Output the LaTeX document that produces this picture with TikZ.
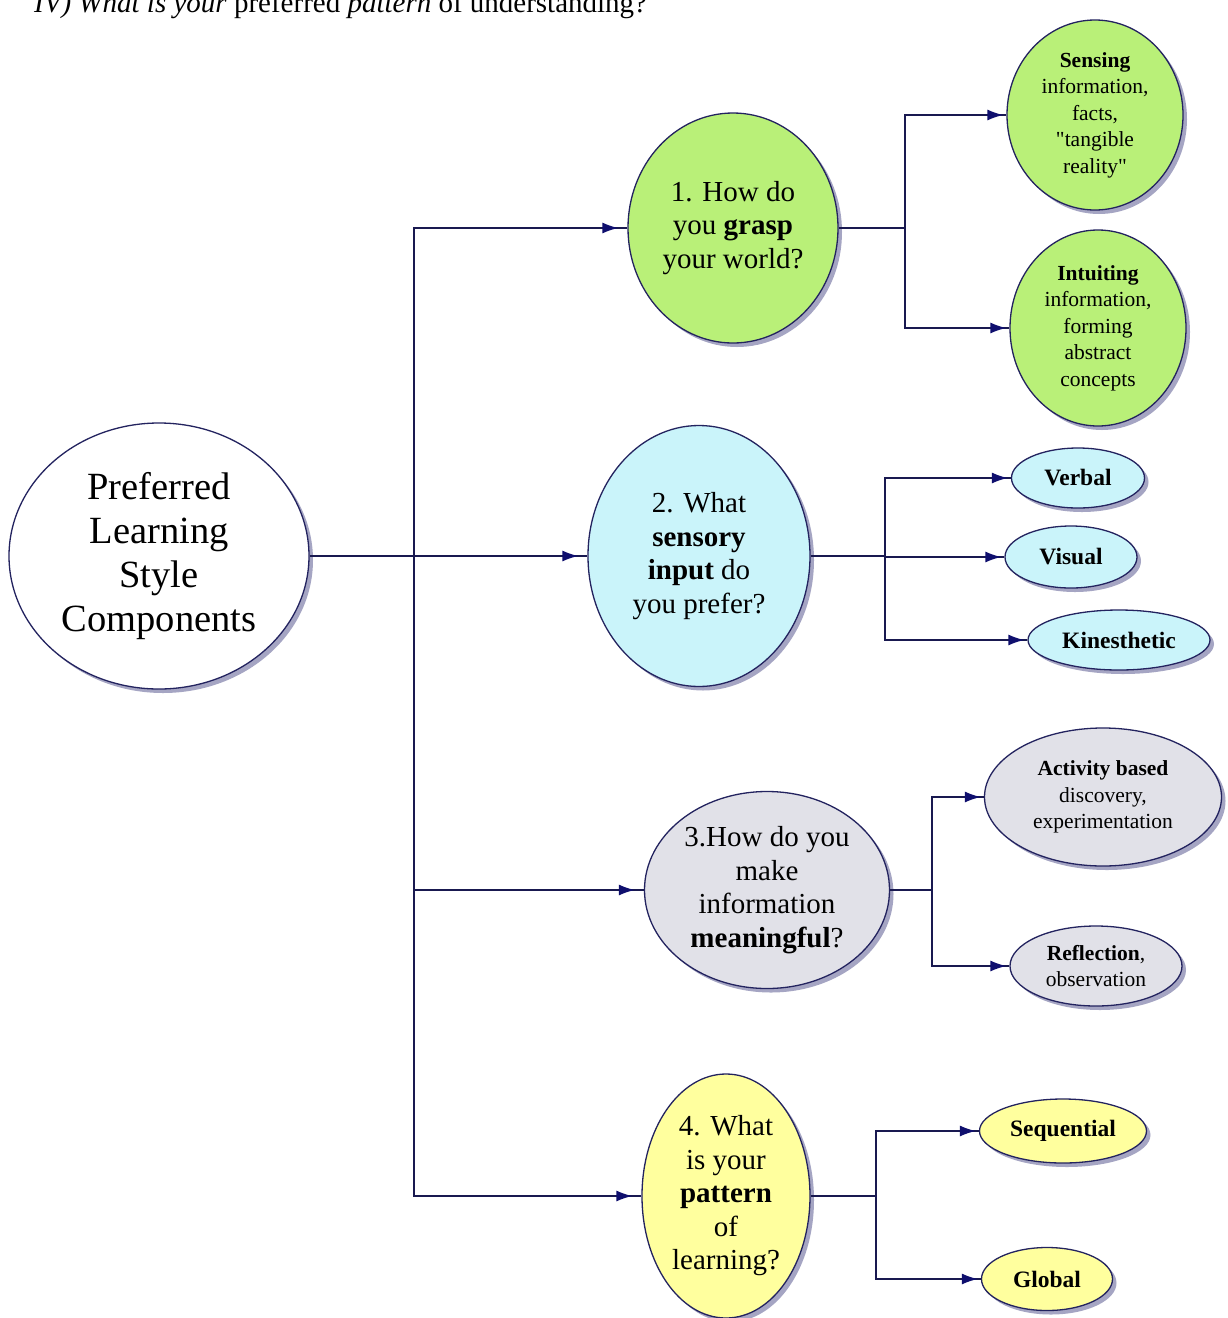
\documentclass[tikz,border=0pt]{standalone}
\usepackage{fontspec}
\setmainfont{Liberation Serif}
\usetikzlibrary{shapes.geometric,arrows.meta,shadows,decorations.markings}
\definecolor{edgec}{RGB}{35,35,95}
\definecolor{linec}{RGB}{25,25,80}
\definecolor{tipc}{RGB}{15,15,110}
\definecolor{shadowc}{RGB}{135,135,175}
\definecolor{greenf}{RGB}{185,240,120}
\definecolor{cyanf}{RGB}{202,244,250}
\definecolor{greyf}{RGB}{225,225,232}
\definecolor{yellowf}{RGB}{255,255,158}
\begin{document}
\begin{tikzpicture}[x=1pt,y=-1pt,
  oval/.style={ellipse, draw=edgec, line width=1.3pt, inner sep=0pt, align=center,
    drop shadow={shadow xshift=4pt, shadow yshift=-4pt, fill=shadowc, opacity=0.75}},
  big/.style={font=\fontsize{29}{33.5}\selectfont},
  small/.style={font=\fontsize{21.5}{26.5}\selectfont},
  word/.style={font=\fontsize{23.5}{27}\selectfont\bfseries},
  conn/.style={draw=linec, line width=1.5pt},
  tipped/.style={conn, postaction={decorate, decoration={markings,
    mark=at position -9pt with {\arrow[tipc]{Latex[length=16pt,width=11pt]}}}}},
  tippedsm/.style={conn, postaction={decorate, decoration={markings,
    mark=at position -3pt with {\arrow[tipc]{Latex[length=16pt,width=11pt]}}}}}
]
\useasboundingbox (0,0) rectangle (1228,1318);
\fill[white] (0,0) rectangle (1228,1318);

\node[anchor=base west, inner sep=0pt, font=\fontsize{29}{32}\selectfont] (title) at (34,12)
  {\textit{IV) What is your} preferred \textit{pattern} of understanding?};

% main node
\node[oval, fill=white, minimum width=300pt, minimum height=266pt,
  font=\fontsize{38.5}{44}\selectfont] (main) at (159,556)
  {Preferred\\Learning\\Style\\Components};

% level 1
\node[oval, big, fill=greenf, minimum width=210pt, minimum height=230pt] (n1) at (733,228)
  {1. How do\\you \textbf{grasp}\\your world?};
\node[oval, big, fill=cyanf, minimum width=222pt, minimum height=261pt] (n2) at (699,556)
  {2. What\\\textbf{sensory}\\\textbf{input} do\\you prefer?};
\node[oval, big, fill=greyf, minimum width=245pt, minimum height=197pt] (n3) at (767,890)
  {3.How do you\\make\\information\\\textbf{meaningful}?};
\node[oval, big, fill=yellowf, minimum width=168pt, minimum height=244pt] (n4) at (726,1196)
  {4. What\\is your\\\textbf{pattern}\\of\\learning?};

% level 2
\node[oval, small, fill=greenf, minimum width=176pt, minimum height=190pt] (s1) at (1095,115)
  {\textbf{Sensing}\\information,\\facts,\\\textquotedbl tangible\\reality\textquotedbl};
\node[oval, small, fill=greenf, minimum width=176pt, minimum height=196pt] (s2) at (1098,328)
  {\textbf{Intuiting}\\information,\\forming\\abstract\\concepts};
\node[oval, word, fill=cyanf, minimum width=133pt, minimum height=60pt] (v1) at (1078,478)
  {Verbal};
\node[oval, word, fill=cyanf, minimum width=132pt, minimum height=62pt] (v2) at (1071,557)
  {Visual};
\node[oval, word, fill=cyanf, minimum width=182pt, minimum height=60pt] (v3) at (1119,640)
  {Kinesthetic};
\node[oval, small, fill=greyf, minimum width=237pt, minimum height=138pt] (m1) at (1103,797)
  {\textbf{Activity based}\\discovery,\\experimentation};
\node[oval, small, fill=greyf, minimum width=172pt, minimum height=80pt] (m2) at (1096,966)
  {\textbf{Reflection},\\observation};
\node[oval, word, fill=yellowf, minimum width=167pt, minimum height=64pt] (p1) at (1063,1131)
  {Sequential};
\node[oval, word, fill=yellowf, minimum width=131pt, minimum height=63pt] (p2) at (1047,1279)
  {Global};

% connectors from main
\coordinate (tr) at (414,556);
\draw[tipped] (main.east) -- (n2.west);
\draw[tipped] (tr) |- (n1.west);
\draw[tipped] (tr) |- (n3.west);
\draw[tipped] (tr) |- (n4.west);

% branch 1
\coordinate (b1) at (905,228);
\draw[conn] (n1.east) -- (b1);
\draw[tippedsm] (b1) |- (s1.west);
\draw[tippedsm] (b1) |- (s2.west);

% branch 2
\coordinate (b2) at (885,556);
\draw[conn] (n2.east) -- (b2);
\draw[tippedsm] (b2) |- (v1.west);
\draw[tippedsm] (b2) |- (v2.west);
\draw[tippedsm] (b2) |- (v3.west);

% branch 3
\coordinate (b3) at (932,890);
\draw[conn] (n3.east) -- (b3);
\draw[tippedsm] (b3) |- (m1.west);
\draw[tippedsm] (b3) |- (m2.west);

% branch 4
\coordinate (b4) at (876,1196);
\draw[conn] (n4.east) -- (b4);
\draw[tippedsm] (b4) |- (p1.west);
\draw[tippedsm] (b4) |- (p2.west);
\end{tikzpicture}
\end{document}
